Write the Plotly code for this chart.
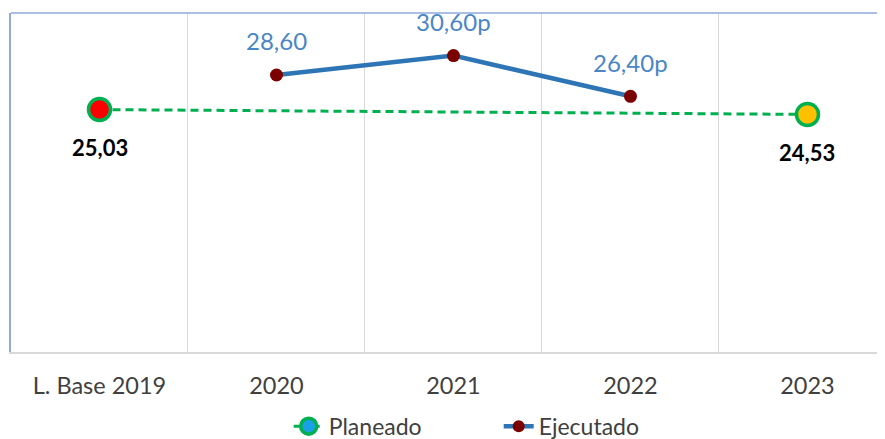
import plotly.graph_objects as go

categories = ["L. Base 2019", "2020", "2021", "2022", "2023"]

plan_x = ["L. Base 2019", "2023"]
plan_values = [25.03, 24.53]
plan_labels = ["25,03", "24,53"]
plan_marker_colors = ["#FF0000", "#FFC000"]

ejec_x = ["2020", "2021", "2022"]
ejec_values = [28.60, 30.60, 26.40]
ejec_labels = ["28,60", "30,60p", "26,40p"]

FONT = "Lato, Carlito, Calibri, 'Liberation Sans', Arial, sans-serif"
GREEN = "#00B050"
BLUE_LINE = "#2E75B6"
DARK_RED = "#7B0000"
LABEL_BLUE = "#4A86C6"
AXIS_BLUE = "#8FAADC"
GRID = "#D9D9D9"

fig = go.Figure()

# actual traces
fig.add_trace(go.Scatter(
    x=plan_x, y=plan_values, mode="lines+markers", showlegend=False,
    line=dict(color=GREEN, width=3, dash="8px,5px"),
    marker=dict(size=22, color=plan_marker_colors, line=dict(color=GREEN, width=3.5)),
))
fig.add_trace(go.Scatter(
    x=ejec_x, y=ejec_values, mode="lines+markers", showlegend=False,
    line=dict(color=BLUE_LINE, width=4.5),
    marker=dict(size=13, color=DARK_RED),
))

# legend entries
fig.add_trace(go.Scatter(
    x=[None], y=[None], mode="lines+markers", name="Planeado",
    line=dict(color=GREEN, width=3, dash="6px,4px"),
    marker=dict(size=18, color="#1AA0E6", line=dict(color=GREEN, width=3.5)),
))
fig.add_trace(go.Scatter(
    x=[None], y=[None], mode="lines+markers", name="Ejecutado",
    line=dict(color=BLUE_LINE, width=4.5),
    marker=dict(size=12, color=DARK_RED),
))

for xv, yv, t in zip(ejec_x, ejec_values, ejec_labels):
    fig.add_annotation(x=categories.index(xv), y=yv, xref="x", yref="y", text=t,
                       showarrow=False, yshift=34, yanchor="middle",
                       font=dict(family=FONT, size=24, color=LABEL_BLUE))
for xv, yv, t in zip(plan_x, plan_values, plan_labels):
    fig.add_annotation(x=categories.index(xv), y=yv, xref="x", yref="y",
                       text="<b>" + t + "</b>", showarrow=False, yshift=-38,
                       yanchor="middle", font=dict(family=FONT, size=22, color="#000000"))

fig.add_shape(type="line", xref="paper", yref="paper", x0=0, x1=1, y0=1, y1=1,
              line=dict(color=AXIS_BLUE, width=1.5))

fig.update_xaxes(
    type="category", categoryorder="array", categoryarray=categories,
    range=[-0.5, 4.438], tickson="boundaries", showgrid=True, gridcolor=GRID, gridwidth=1,
    showline=True, linecolor=GRID, linewidth=1.5, ticks="", zeroline=False,
    tickfont=dict(family=FONT, size=23.5, color="#404040"), ticklabelstandoff=12,
    automargin=False,
)
fig.update_yaxes(
    range=[0, 35], showgrid=False, zeroline=False, showticklabels=False,
    showline=True, linecolor=AXIS_BLUE, linewidth=1.5, ticks="", automargin=False,
)

# page body has an 8px margin, so the figure is sized/offset to land on the 885x439 view
fig.update_layout(
    width=877, height=431,
    margin=dict(l=3, r=0, t=5, b=87, autoexpand=False),
    paper_bgcolor="white", plot_bgcolor="white",
    font=dict(family=FONT, color="#404040"),
    legend=dict(orientation="h", x=0.558, xanchor="center", y=-0.219, yanchor="middle",
                font=dict(family=FONT, size=23, color="#404040"),
                entrywidth=165, entrywidthmode="pixels",
                bgcolor="rgba(0,0,0,0)"),
)

fig.write_html("out.html")
